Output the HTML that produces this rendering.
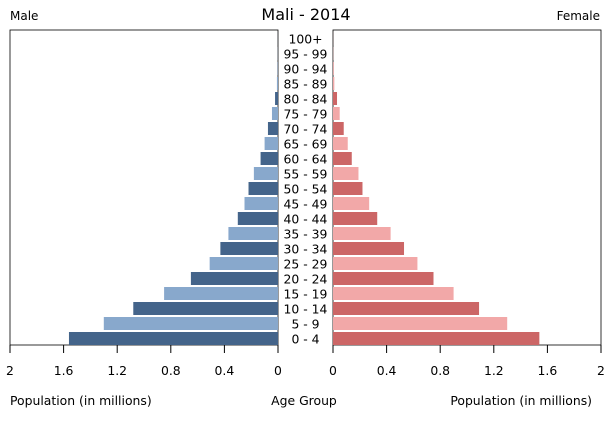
<!DOCTYPE html>
<html><head><meta charset="utf-8"><style>
body{margin:0;background:#fff;font-family:"DejaVu Sans","Liberation Sans",sans-serif;}
svg text{font-family:"DejaVu Sans","Liberation Sans",sans-serif;fill:#000;}
</style></head><body>
<svg id="chart" width="610" height="425" xmlns="http://www.w3.org/2000/svg">
<text x="306" y="20" font-size="16" text-anchor="middle">Mali - 2014</text>
<text x="10" y="20" font-size="12">Male</text>
<text x="600" y="20" font-size="12" text-anchor="end">Female</text>
<rect x="10" y="30" width="268" height="315" fill="none" stroke="#000" stroke-width="0.8"/>
<rect x="333" y="30" width="268" height="315" fill="none" stroke="#000" stroke-width="0.8"/>
<g id="bars"></g>
<g id="axes"></g>
<text x="10" y="405" font-size="12.4">Population (in millions)</text>
<text x="304" y="405" font-size="12.4" text-anchor="middle">Age Group</text>
<text x="592" y="405" font-size="12.4" text-anchor="end">Population (in millions)</text>
</svg>
<script>
const ageGroups=["0 - 4","5 - 9","10 - 14","15 - 19","20 - 24","25 - 29","30 - 34","35 - 39","40 - 44","45 - 49","50 - 54","55 - 59","60 - 64","65 - 69","70 - 74","75 - 79","80 - 84","85 - 89","90 - 94","95 - 99","100+"];
const maleValues=[1.56,1.30,1.08,0.85,0.65,0.51,0.43,0.37,0.30,0.25,0.22,0.18,0.13,0.10,0.075,0.045,0.022,0.008,0.003,0.001,0.0005];
const femaleValues=[1.54,1.30,1.09,0.90,0.75,0.63,0.53,0.43,0.33,0.27,0.22,0.19,0.14,0.11,0.08,0.05,0.03,0.01,0.004,0.0015,0.0005];
const tickValues=[0,0.4,0.8,1.2,1.6,2];
const tickLabels=["0","0.4","0.8","1.2","1.6","2"];
const NS="http://www.w3.org/2000/svg";
const pxPer=134, maleZero=278, femaleZero=333, bottom=345, rowH=15;
const xMale=v=>maleZero-v*pxPer, xFemale=v=>femaleZero+v*pxPer;
const yRow=i=>bottom-(i+1)*rowH;
const bars=document.getElementById('bars'), axes=document.getElementById('axes');
function mk(tag,attrs,parent){const e=document.createElementNS(NS,tag);for(const k in attrs)e.setAttribute(k,attrs[k]);parent.appendChild(e);return e;}
ageGroups.forEach((g,i)=>{
  const y=yRow(i)+2;
  const m=mk('rect',{x:xMale(maleValues[i]),y:y,width:maleZero-xMale(maleValues[i]),height:13,fill:i%2?'#88a8cc':'#44648a'},bars);
  
  
  const f=mk('rect',{x:femaleZero,y:y,width:xFemale(femaleValues[i])-femaleZero,height:13,fill:i%2?'#f2a8a8':'#cc6666'},bars);
  
  
  const t=mk('text',{x:305.5,y:y+11.5,'font-size':12.4,'text-anchor':'middle'},bars);
  t.textContent=g;
  
  
});
tickValues.forEach((v,i)=>{
  [xMale(v),xFemale(v)].forEach(x=>{
    const l=mk('line',{x1:x,x2:x,y1:bottom,y2:bottom+8,stroke:'#000','stroke-width':1},axes);
    
    
    const t=mk('text',{x:x,y:375,'font-size':12.4,'text-anchor':'middle'},axes);
    t.textContent=tickLabels[i];
    
    
  });
});
</script>
</body></html>
